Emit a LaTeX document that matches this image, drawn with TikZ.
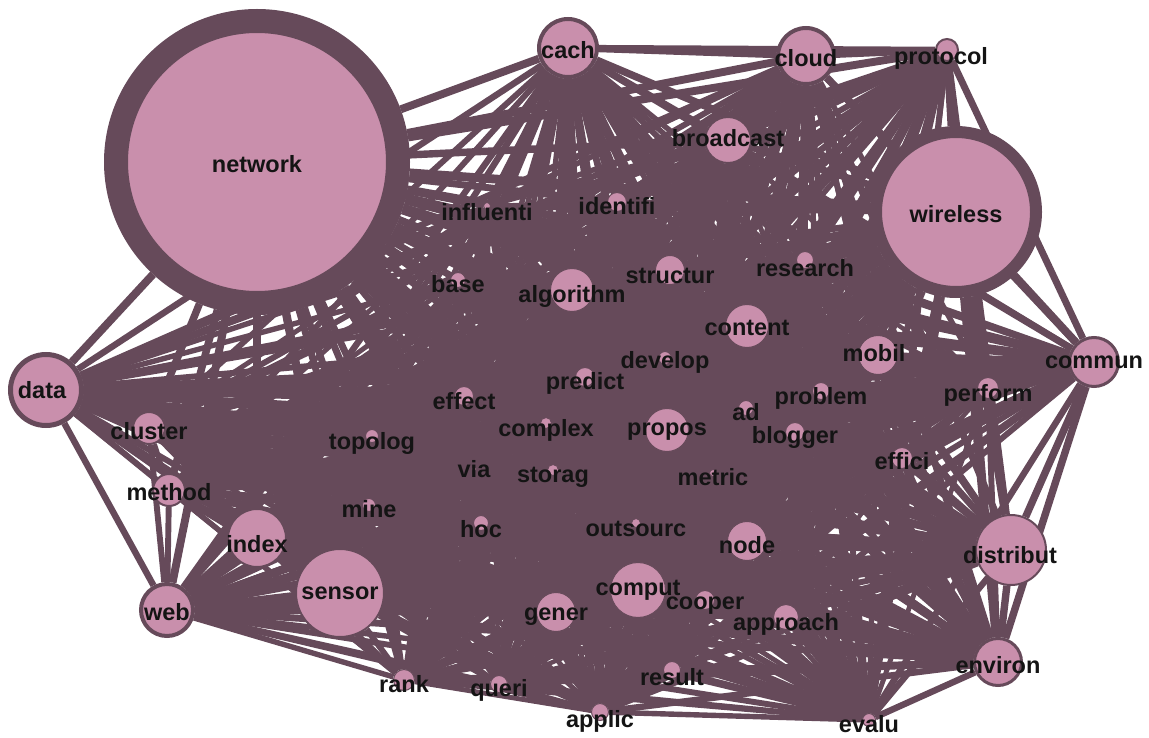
\documentclass[tikz,border=0pt]{standalone}
\usepackage{fontspec}
\setmainfont{Liberation Sans}
\definecolor{edgec}{RGB}{102,74,90}
\definecolor{nodec}{RGB}{201,143,172}
\pgfdeclarelayer{edges}
\pgfsetlayers{edges,main}
\tikzset{
  vert/.style={circle, fill=nodec, draw=edgec, inner sep=0pt},
  lab/.style={font=\bfseries\fontsize{23.5}{23.5}\selectfont, text=black!92, inner sep=0pt},
  link/.style={draw=edgec},
}
\def\nodelist{network/257/162/129/24/6/0/2,
cach/568/48/27/4/3/0/2,
cloud/806/56/26/4/3/0/2,
protocol/947/50/10/2/3/-6/8,
broadcast/728/140/22/2/2/0/-2,
wireless/956/212/74/12/5/0/2,
identifi/617/202/9/1/1/0/4,
influenti/487/206/3/1/1/0/6,
base/458/280/7/1/1/0/4,
algorithm/572/290/21/1/2/0/6,
structur/670/270/14/1/2/0/6,
research/805/260/8/1/1/0/8,
content/747/326/21/1/2/0/2,
mobil/878/355/19/2/2/-4/-2,
commun/1094/362/23/3/4/0/0,
data/46/390/33/5/3/-4/0,
develop/665/358/6/1/1/0/4,
predict/585/377/9/1/1/0/6,
effect/464/396/9/1/1/0/5,
problem/821/391/8/1/1/0/7,
perform/988/388/10/1/1/0/7,
ad/746/408/7/1/1/0/4,
cluster/149/428/15/2/2/0/3,
topolog/372/436/6/1/1/0/7,
complex/546/423/5/1/1/0/7,
propos/667/430/21/1/2/0/2,
blogger/795/432/9/1/1/0/5,
effici/902/458/10/1/1/0/3,
via/474/469/2/1/1/0/0,
storag/553/470/5/1/1/0/7,
metric/713/473/3/1/1/0/4,
method/169/490/15/2/2/0/2,
mine/369/505/6/1/1/0/4,
hoc/481/523/7/1/1/0/6,
outsourc/636/523/4/1/1/0/6,
index/257/538/28/2/3/0/6,
node/747/541/19/1/2/0/4,
distribut/1011/550/34/2/4/-1/5,
sensor/340/593/43/2/4/0/0,
comput/638/590/27/1/3/0/0,
web/167/610/24/4/3/0/2,
gener/556/612/19/1/2/0/5,
cooper/705/600/9/1/1/0/6,
approach/786/617/12/1/1/0/7,
environ/998/662/22/3/4/0/3,
rank/404/680/10/1/1/0/4,
queri/499/684/8/1/1/0/6,
result/672/670/8/1/1/0/7,
applic/600/712/8/1/2/0/9,
evalu/869/720/6/1/2/0/4}
\begin{document}
\begin{tikzpicture}[x=1pt,y=-1pt]
\useasboundingbox (0,0) rectangle (1149,738);
% vertices
\foreach \n/\x/\y/\r/\b/\w/\dx/\dy in \nodelist {
  \pgfmathsetmacro\ms{2*\r+\b}
  \node[vert, line width=\b pt, minimum size=\ms pt] (\n) at (\x,\y) {};
}
% edges (all pairs) on the background layer
\begin{pgfonlayer}{edges}
\foreach \a/\xa/\ya/\ra/\ba/\wa/\dxa/\dya [count=\i] in \nodelist {
  \foreach \q/\xq/\yq/\rq/\bq/\wq/\dxq/\dyq [count=\j] in \nodelist {
    \ifnum\j>\i
      \pgfmathsetmacro\lw{3.4+0.5*(\wa+\wq)}
      \draw[link, line width=\lw pt] (\a) -- (\q);
    \fi
  }
}
\end{pgfonlayer}
% labels
\foreach \n/\x/\y/\r/\b/\w/\dx/\dy in \nodelist {
  \node[lab] (l-\n) at (\x+\dx,\y+\dy) {\n};
}
\end{tikzpicture}
\end{document}
